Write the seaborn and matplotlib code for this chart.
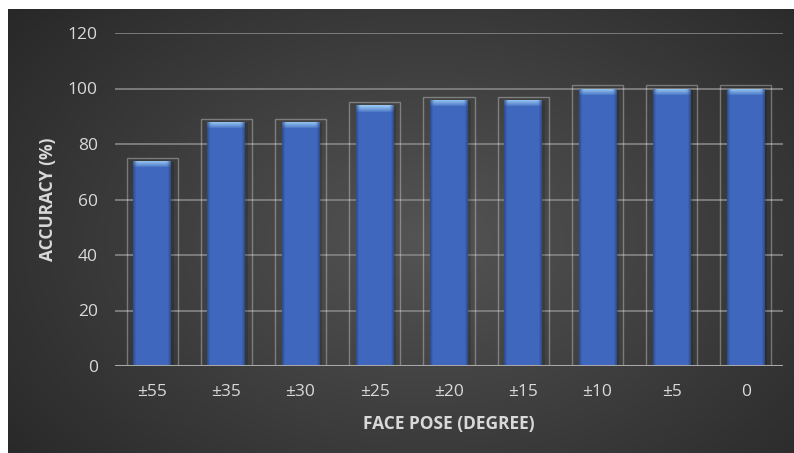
import numpy as np
import matplotlib
matplotlib.use('Agg')
import matplotlib.pyplot as plt
import seaborn as sns
from matplotlib.patches import Rectangle

# ---- data ----
poses = ['±55', '±35', '±30', '±25', '±20', '±15', '±10', '±5', '0']
accuracy = [74, 88, 88, 94, 96, 96, 100, 100, 100]
yticks = [0, 20, 40, 60, 80, 100, 120]

sns.set_theme(style='dark')
plt.rcParams['font.family'] = ['Open Sans', 'DejaVu Sans']

W, H = 794, 453
fig = plt.figure(figsize=(W / 100, H / 100), dpi=100)
fig.patch.set_facecolor('white')

# ---- background radial gradient ----
bg = fig.add_axes([8 / W, 0, (W - 8) / W, (H - 9) / H])
bh, bw = H - 9, W - 8
yy, xx = np.mgrid[0:bh, 0:bw]
d = np.sqrt(((xx - 420) / 560) ** 2 + ((yy - 230) / 380) ** 2)
v = 0.33 - 0.18 * np.clip(d, 0, 1.05)
img = np.dstack([v, v, v])
bg.imshow(img, aspect='auto', extent=[0, 1, 0, 1], interpolation='bilinear')
bg.set_axis_off()

# ---- main axes ----
ax = fig.add_axes([115 / W, (H - 366) / H, (783 - 115) / W, (366 - 33) / H])
ax.patch.set_alpha(0)
bar_w = 0.51
sns.barplot(x=poses, y=accuracy, ax=ax, width=bar_w, color='#3d66bd',
            saturation=1, edgecolor='none', zorder=3)

ax.set_ylim(0, 120)
ax.set_xlim(-0.5, len(poses) - 0.5)
ax.set_yticks(yticks)
ax.yaxis.grid(True, color='#808080', linewidth=1.3, zorder=0)
ax.xaxis.grid(False)
for s in ax.spines.values():
    s.set_visible(False)
ax.axhline(0, color='#a8a8a8', linewidth=2.2, zorder=5)

base = np.array([0.245, 0.405, 0.745])
cap = np.array([0.60, 0.79, 0.95])
box_w = 0.69
for p in list(ax.patches):
    x0, w, h = p.get_x(), p.get_width(), p.get_height()
    # outline frame
    ax.add_patch(Rectangle((x0 - (box_w - w) / 2, 0), box_w, h + 1.1,
                           facecolor='none', edgecolor=(1, 1, 1, 0.32),
                           linewidth=1.0, zorder=2))
    # soft shadow on right
    ax.add_patch(Rectangle((x0 + w, 0), 0.035, h - 0.5,
                           facecolor=(0, 0, 0, 0.15), edgecolor='none', zorder=2))
    # shaded bar image
    ny = max(int(h * 2.775), 2)
    nx = 40
    t = np.linspace(0, 1, ny)[:, None]          # 0 at top
    sx = np.linspace(-1, 1, nx)[None, :]
    edge = 1 - 0.25 * np.clip((np.abs(sx) - 0.85) / 0.15, 0, 1)
    capw = np.clip(1 - t * h * 2.775 / 7.0, 0, 1) ** 0.8
    capw = capw * (1 - 0.6 * np.clip((np.abs(sx) - 0.75) / 0.25, 0, 1))
    rgb = (base[None, None, :] * (1 - capw[..., None]) + cap[None, None, :] * capw[..., None])
    rgb = rgb * edge[..., None]
    rgb = np.clip(rgb, 0, 1)
    im = ax.imshow(rgb, extent=[x0, x0 + w, 0, h], aspect='auto',
                   interpolation='bilinear', zorder=4)
    im.set_clip_path(p)

ax.set_ylim(0, 120)
ax.set_xlim(-0.5, len(poses) - 0.5)

tc = '#d9d9d9'
ax.tick_params(axis='y', colors=tc, labelsize=12.5, length=0, pad=12.5)
ax.tick_params(axis='x', colors=tc, labelsize=12.5, length=0, pad=13)
ax.set_xlabel('FACE POSE (DEGREE)', color=tc, fontsize=12.5, fontweight='bold', labelpad=11)
ax.set_ylabel('ACCURACY (%)', color=tc, fontsize=12.5, fontweight='bold', labelpad=8)

fig.savefig('out.png', dpi=100)
